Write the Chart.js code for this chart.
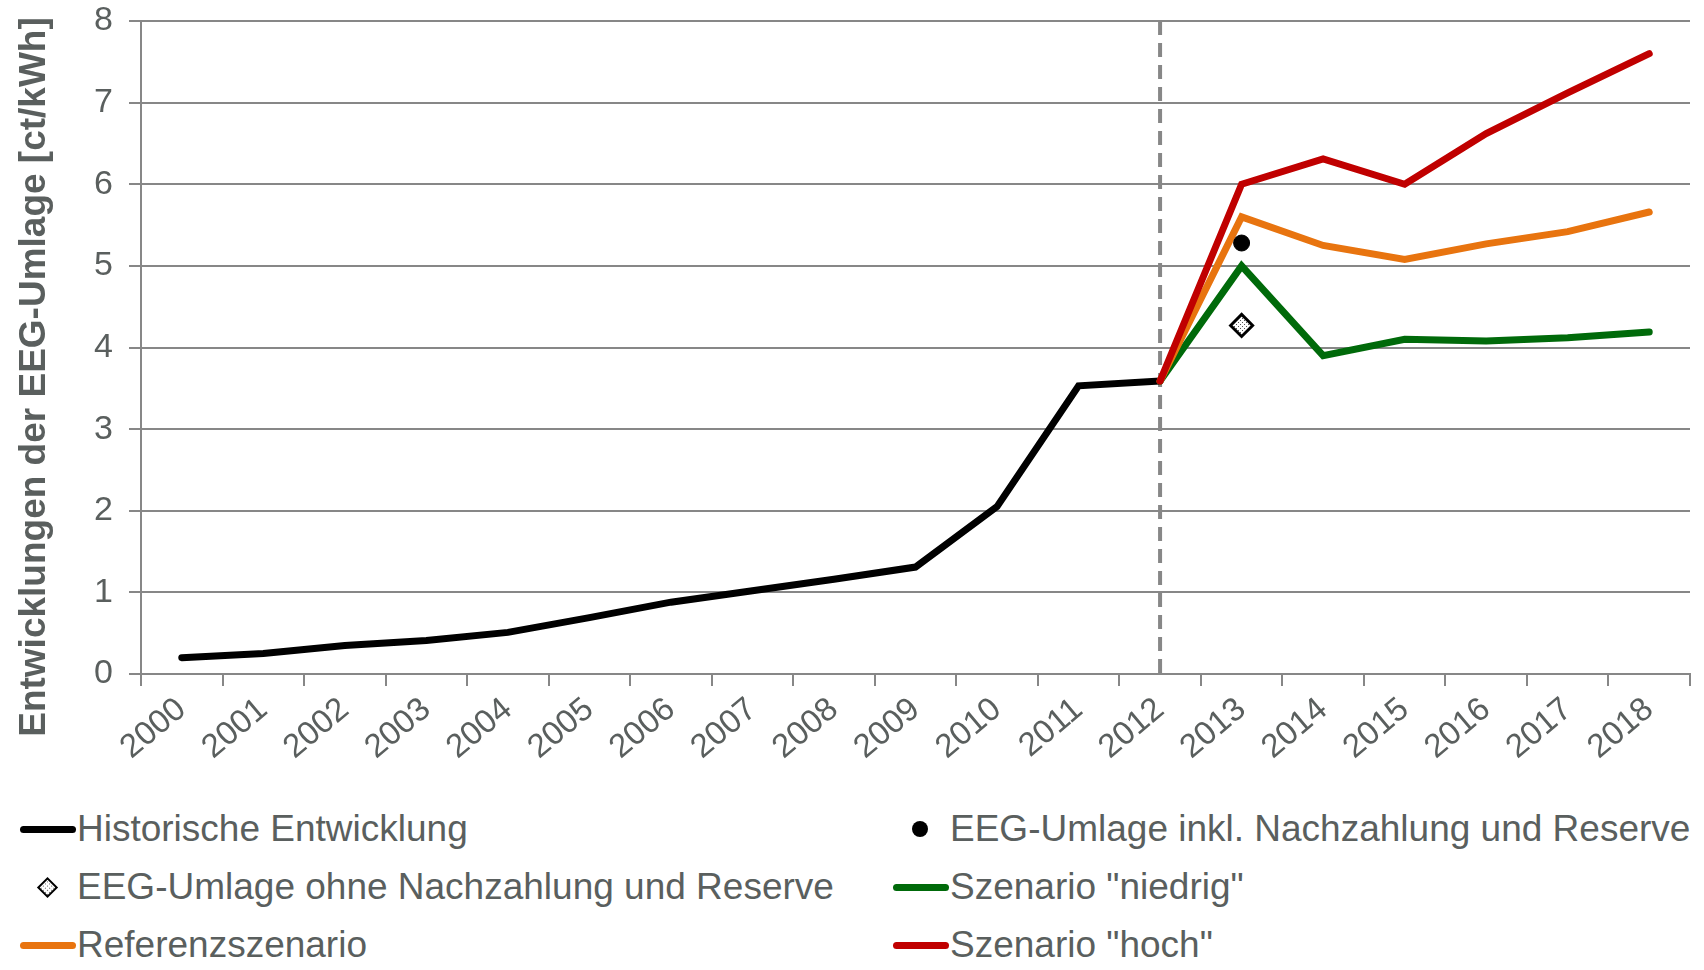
<!DOCTYPE html>
<html>
<head>
<meta charset="utf-8">
<script src="https://cdn.jsdelivr.net/npm/chart.js@4"></script>
<style>
  html, body { margin: 0; padding: 0; background: #fff; }
  #wrap { position: relative; width: 1704px; height: 970px; overflow: hidden; }
  #chart-box { position: absolute; left: 0; top: 0; width: 1704px; height: 790px; }
  #y-title {
    position: absolute; left: 33px; top: 377px; white-space: nowrap;
    transform: translate(-50%, -50%) rotate(-90deg);
    font-family: "Liberation Sans", Arial, sans-serif; font-size: 37px; font-weight: bold; color: #5a5f5e;
  }
  #legend {
    position: absolute; left: 20px; top: 800px; width: 1684px;
    display: grid; grid-template-columns: 873px 811px; grid-auto-rows: 58px;
    font-family: "Liberation Sans", Arial, sans-serif; font-size: 37px; color: #5a5f5e;
  }
  .item { display: flex; align-items: center; white-space: nowrap; }
  .mark { position: relative; width: 57px; height: 40px; flex: none; }
  .mark .ln { position: absolute; left: 0; top: 17px; width: 56px; height: 7px; border-radius: 4px; }
  .mark .dot { position: absolute; left: 19px; top: 12px; width: 16px; height: 16px; border-radius: 50%; }
  .mark .dia { position: absolute; left: 20px; top: 13px; width: 11px; height: 11px; transform: rotate(45deg);
    border: 2px solid #000;
    background-color: #fff;
    background-image: radial-gradient(#555 0.8px, transparent 1px);
    background-size: 3px 3px; }
</style>
</head>
<body>
<div id="wrap">
  <div id="chart-box"><canvas id="eeg-chart"></canvas></div>
  <div id="y-title">Entwicklungen der EEG-Umlage [ct/kWh]</div>
  <div id="legend"></div>
</div>
<script>
(function() {

  'use strict';

  // Jahre
  const years = ['2000', '2001', '2002', '2003', '2004', '2005', '2006', '2007', '2008', '2009',
    '2010', '2011', '2012', '2013', '2014', '2015', '2016', '2017', '2018'];

  // EEG-Umlage in ct/kWh
  const historisch = [0.20, 0.25, 0.35, 0.41, 0.51, 0.69, 0.88, 1.02, 1.16, 1.31, 2.05, 3.53, 3.59,
    null, null, null, null, null, null];
  const inklNachzahlung = [null, null, null, null, null, null, null, null, null, null, null, null, null,
    5.28, null, null, null, null, null];
  const ohneNachzahlung = [null, null, null, null, null, null, null, null, null, null, null, null, null,
    4.27, null, null, null, null, null];
  const niedrig = [null, null, null, null, null, null, null, null, null, null, null, null, 3.59,
    5.00, 3.90, 4.10, 4.08, 4.12, 4.19];
  const referenz = [null, null, null, null, null, null, null, null, null, null, null, null, 3.59,
    5.60, 5.25, 5.08, 5.27, 5.42, 5.66];
  const hoch = [null, null, null, null, null, null, null, null, null, null, null, null, 3.59,
    6.00, 6.31, 6.00, 6.62, 7.12, 7.60];

  const yTicks = [0, 1, 2, 3, 4, 5, 6, 7, 8];
  const cutYear = '2012';

  const textColor = '#5a5f5e';
  const gridColor = '#878787';
  const fontFamily = '"Liberation Sans", Arial, sans-serif';

  // small dotted fill for the diamond marker
  function dottedPattern() {
    let c = document.createElement('canvas');
    c.width = 4;
    c.height = 4;
    let g = c.getContext('2d');
    g.fillStyle = '#ffffff';
    g.fillRect(0, 0, 4, 4);
    g.fillStyle = '#555555';
    g.fillRect(0, 0, 1, 1);
    g.fillRect(2, 2, 1, 1);
    return g.createPattern(c, 'repeat');
  }

  // dashed line at the start of the forecast
  const cutLinePlugin = {
    id: 'cutLine',
    beforeDatasetsDraw: function(chart) {
      let x = chart.scales.x.getPixelForValue(years.indexOf(cutYear));
      let area = chart.chartArea;
      let ctx = chart.ctx;
      ctx.save();
      ctx.strokeStyle = gridColor;
      ctx.lineWidth = 4;
      ctx.setLineDash([14, 8]);
      ctx.beginPath();
      ctx.moveTo(x, area.top);
      ctx.lineTo(x, area.bottom);
      ctx.stroke();
      ctx.restore();
    },
  };

  function lineSet(label, data, color, order) {
    return {
      label: label,
      data: data,
      borderColor: color,
      backgroundColor: color,
      borderWidth: 7,
      pointRadius: 0,
      pointHoverRadius: 0,
      fill: false,
      tension: 0,
      borderJoinStyle: 'miter',
      borderCapStyle: 'round',
      spanGaps: false,
      order: order,
    };
  }

  let datasets = [
    lineSet('Historische Entwicklung', historisch, '#000000', 5),
    {
      label: 'EEG-Umlage inkl. Nachzahlung und Reserve',
      data: inklNachzahlung,
      showLine: false,
      pointStyle: 'circle',
      pointRadius: 8,
      pointBackgroundColor: '#000000',
      pointBorderColor: '#000000',
      order: 0,
    },
    {
      label: 'EEG-Umlage ohne Nachzahlung und Reserve',
      data: ohneNachzahlung,
      showLine: false,
      pointStyle: 'rectRot',
      pointRadius: 11,
      pointBorderWidth: 3,
      pointBackgroundColor: dottedPattern(),
      pointBorderColor: '#000000',
      order: 0,
    },
    lineSet('Szenario "niedrig"', niedrig, '#006a0a', 3),
    lineSet('Referenzszenario', referenz, '#e8740f', 2),
    lineSet('Szenario "hoch"', hoch, '#c00000', 1),
  ];

  let config = {
    type: 'line',
    data: {
      labels: years,
      datasets: datasets,
    },
    options: {
      responsive: true,
      maintainAspectRatio: false,
      animation: false,
      layout: {
        padding: { top: 21, right: 8, left: 0, bottom: 0 },
      },
      plugins: {
        legend: { display: false },
        tooltip: { enabled: false },
      },
      scales: {
        x: {
          type: 'category',
          offset: true,
          grid: {
            offset: true,
            drawOnChartArea: false,
            drawTicks: true,
            tickLength: 12,
            color: gridColor,
            lineWidth: 2,
          },
          border: { display: true, color: gridColor, width: 2 },
          ticks: {
            autoSkip: false,
            minRotation: 40,
            maxRotation: 40,
            padding: 4,
            color: textColor,
            font: { family: fontFamily, size: 33 },
          },
          afterFit: function(scale) {
            scale.height = 116;
            scale.paddingRight = 0;
          },
        },
        y: {
          min: 0,
          max: 8,
          afterBuildTicks: function(scale) {
            scale.ticks = yTicks.map((v) => ({ value: v }));
          },
          grid: {
            color: gridColor,
            lineWidth: 2,
            tickLength: 12,
          },
          border: { display: true, color: gridColor, width: 2 },
          ticks: {
            padding: 16,
            color: textColor,
            font: { family: fontFamily, size: 34 },
          },
          afterFit: function(scale) {
            scale.width = 141;
            scale.paddingTop = 0;
            scale.paddingBottom = 0;
          },
        },
      },
    },
    plugins: [cutLinePlugin],
  };

  let chart = new Chart(document.getElementById('eeg-chart'), config);

  // legend in two columns, built from the datasets
  let legend = document.getElementById('legend');
  chart.data.datasets.forEach((ds) => {
    let item = document.createElement('div');
    item.className = 'item';
    let mark = document.createElement('div');
    mark.className = 'mark';
    let sym = document.createElement('div');
    if (ds.showLine === false) {
      if (ds.pointStyle === 'circle') {
        sym.className = 'dot';
        sym.style.background = ds.pointBackgroundColor;
      }
      else {
        sym.className = 'dia';
      }
    }
    else {
      sym.className = 'ln';
      sym.style.background = ds.borderColor;
    }
    mark.appendChild(sym);
    let text = document.createElement('span');
    text.textContent = ds.label;
    item.appendChild(mark);
    item.appendChild(text);
    legend.appendChild(item);
  });

})();
</script>
</body>
</html>
